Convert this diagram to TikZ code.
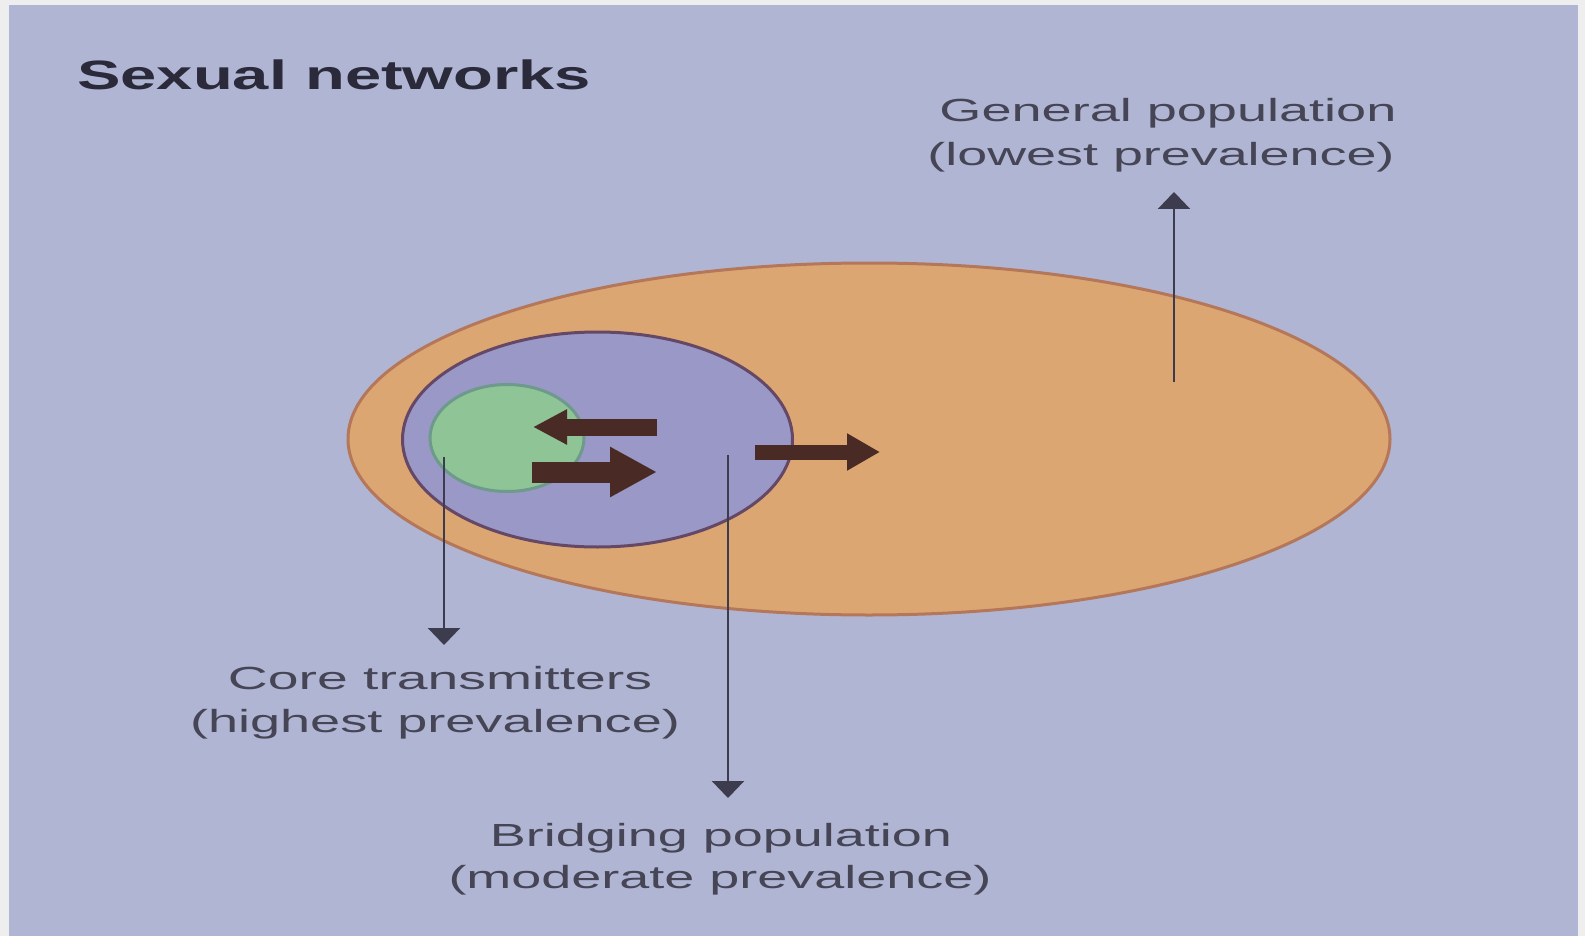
\documentclass[tikz,border=0pt]{standalone}
\usepackage{fontspec}
\usepackage{graphicx}
\setmainfont{Liberation Sans}
\usetikzlibrary{shapes.geometric,arrows.meta}
\definecolor{framegray}{HTML}{EEEEEE}
\definecolor{bgcol}{HTML}{B1B5D4}
\definecolor{orangefill}{HTML}{DCA673}
\definecolor{orangeedge}{HTML}{B5775A}
\definecolor{purplefill}{HTML}{9998C6}
\definecolor{purpleedge}{HTML}{654766}
\definecolor{greenfill}{HTML}{8EC496}
\definecolor{greenedge}{HTML}{6E9A8C}
\definecolor{brownarrow}{HTML}{4A2A24}
\definecolor{thinarrow}{HTML}{3C3C4E}
\definecolor{labeltext}{HTML}{454555}
\definecolor{titletext}{HTML}{2A2A3A}
\newcommand{\wline}[2]{\resizebox{#1pt}{\height}{#2}}
\tikzset{
  region/.style={ellipse, inner sep=0pt, line width=3pt},
  lbl/.style={anchor=base, inner sep=0pt, text=labeltext, font=\fontsize{32}{38}\selectfont},
  thinarr/.style={draw=thinarrow, line width=2.6pt, -{Triangle[width=32pt,length=17pt]}},
  thickarr/.style={draw=brownarrow}
}
\begin{document}
\begin{tikzpicture}[x=1pt,y=-1pt]
\useasboundingbox (0,0) rectangle (1585,936);
\fill[framegray] (0,0) rectangle (1585,936);
\fill[bgcol] (9,5) rectangle (1578,936);

% title
\node[anchor=base west, inner sep=0pt, text=titletext] (title) at (77,90)
  {\wline{514}{\fontsize{41}{47}\selectfont\bfseries Sexual networks}};

% regions
\node[region, draw=orangeedge, fill=orangefill, minimum width=1042pt, minimum height=352pt] (gen) at (869,439) {};
\node[region, draw=purpleedge, fill=purplefill, minimum width=390pt, minimum height=215pt] (bridge) at (597.5,439.5) {};
\node[region, draw=greenedge, fill=greenfill, minimum width=154pt, minimum height=107pt] (core) at (507,438) {};

% labels
\node[lbl] (gl1) at (1168,122) {\wline{457}{General population}};
\node[lbl] (gl2) at (1161,166) {\wline{467}{(lowest prevalence)}};
\node[lbl] (cl1) at (440,689) {\wline{424}{Core transmitters}};
\node[lbl] (cl2) at (435,732) {\wline{490}{(highest prevalence)}};
\node[lbl] (bl1) at (721,846) {\wline{462}{Bridging population}};
\node[lbl] (bl2) at (720,888) {\wline{543}{(moderate prevalence)}};

% thin pointer arrows
\coordinate (cs) at (444,457);
\coordinate (ce) at (444,645);
\coordinate (bs) at (728,455);
\coordinate (be) at (728,798);
\coordinate (gs) at (1174,382);
\coordinate (ge) at (1174,192);
\draw[thinarr] (cs) -- (ce);
\draw[thinarr] (bs) -- (be);
\draw[thinarr] (gs) -- (ge);

% thick flow arrows
\coordinate (a1s) at (657,427);
\coordinate (a1e) at (533,427);
\coordinate (a2s) at (532,472);
\coordinate (a2e) at (657,472);
\coordinate (a3s) at (755,452);
\coordinate (a3e) at (880,452);
\draw[thickarr, line width=17pt, -{Triangle[width=33pt,length=34pt]}] (a1s) -- (a1e);
\draw[thickarr, line width=21pt, -{Triangle[width=47pt,length=47pt]}] (a2s) -- (a2e);
\draw[thickarr, line width=15pt, -{Triangle[width=35pt,length=33pt]}] (a3s) -- (a3e);
\end{tikzpicture}
\end{document}
